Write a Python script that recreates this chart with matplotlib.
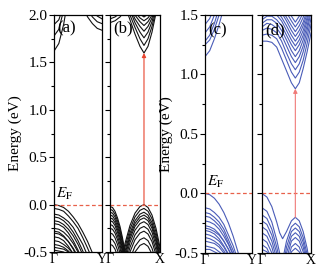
import matplotlib.pyplot as plt
from matplotlib.ticker import MultipleLocator

plt.rcParams['font.family'] = 'serif'
plt.rcParams['font.serif'] = ['Liberation Serif', 'DejaVu Serif']
plt.rcParams['mathtext.fontset'] = 'stix'

# k-path grids (fraction of the path)
k_gy = [0, 0.1, 0.2, 0.3, 0.4, 0.5, 0.6, 0.7, 0.8, 0.9, 1.0]
k_gx_left = [0, 0.05, 0.1, 0.15, 0.2, 0.25, 0.3, 0.35]
k_gx_hump = [0.2, 0.3, 0.4, 0.5, 0.6, 0.68, 0.76, 0.84, 0.92, 1.0]
k_gx_cb = [0.3, 0.4, 0.5, 0.6, 0.68, 0.76, 0.84, 0.92, 1.0]
k_gx_top = [0, 0.1, 0.2, 0.3, 0.4]
k_gx_d = [0, 0.1, 0.2, 0.3, 0.36, 0.42, 0.5, 0.6, 0.68, 0.76, 0.84, 0.92, 1.0]
k_gx_dcb = [0, 0.1, 0.2, 0.3, 0.4, 0.5, 0.6, 0.68, 0.76, 0.84, 0.92, 1.0]

# (a) Gamma-Y, black
a_valence = [
    [0.00, -0.01, -0.03, -0.07, -0.13, -0.20, -0.29, -0.39, -0.51, -0.65, -0.80],
    [-0.04, -0.05, -0.07, -0.12, -0.18, -0.25, -0.35, -0.46, -0.58, -0.73, -0.89],
    [-0.10, -0.11, -0.14, -0.18, -0.24, -0.33, -0.42, -0.54, -0.68, -0.83, -1.00],
    [-0.13, -0.14, -0.17, -0.22, -0.29, -0.38, -0.49, -0.62, -0.77, -0.94, -1.13],
    [-0.17, -0.18, -0.21, -0.26, -0.33, -0.42, -0.53, -0.66, -0.81, -0.98, -1.17],
    [-0.20, -0.21, -0.24, -0.30, -0.38, -0.48, -0.60, -0.74, -0.90, -1.09, -1.30],
    [-0.25, -0.26, -0.29, -0.34, -0.41, -0.50, -0.61, -0.74, -0.89, -1.06, -1.25],
    [-0.28, -0.29, -0.33, -0.39, -0.47, -0.58, -0.71, -0.87, -1.05, -1.25, -1.48],
    [-0.30, -0.31, -0.34, -0.39, -0.46, -0.55, -0.66, -0.79, -0.94, -1.11, -1.30],
    [-0.34, -0.35, -0.38, -0.44, -0.52, -0.62, -0.74, -0.88, -1.04, -1.23, -1.44],
    [-0.38, -0.39, -0.42, -0.46, -0.52, -0.61, -0.70, -0.82, -0.96, -1.11, -1.28],
    [-0.42, -0.43, -0.45, -0.49, -0.55, -0.62, -0.71, -0.81, -0.93, -1.07, -1.22],
    [-0.45, -0.46, -0.47, -0.50, -0.55, -0.60, -0.67, -0.74, -0.83, -0.94, -1.05],
    [-0.48, -0.49, -0.50, -0.53, -0.56, -0.61, -0.66, -0.73, -0.80, -0.89, -0.98],
]
a_conduction = [
    [1.62, 1.70, 1.90, 2.20, 2.50, 2.60, 2.60, 2.60, 2.60, 2.60, 2.60],
    [1.78, 1.85, 2.05, 2.30, 2.50, 2.60, 2.60, 2.60, 2.60, 2.60, 2.60],
    [1.90, 1.95, 2.10, 2.30, 2.50, 2.60, 2.60, 2.60, 2.60, 2.60, 2.60],
    [2.60, 2.60, 2.60, 2.50, 2.30, 2.20, 2.08, 1.98, 1.91, 1.86, 1.84],
    [2.60, 2.60, 2.60, 2.50, 2.40, 2.30, 2.18, 2.06, 1.98, 1.93, 1.91],
    [2.60, 2.60, 2.60, 2.60, 2.50, 2.40, 2.28, 2.15, 2.05, 1.99, 1.96],
]

# (b) Gamma-X, black
b_valence_left = [
    [-0.02, -0.03, -0.07, -0.14, -0.23, -0.35, -0.50, -0.67],
    [-0.05, -0.06, -0.10, -0.17, -0.26, -0.38, -0.53, -0.70],
    [-0.08, -0.09, -0.13, -0.20, -0.29, -0.41, -0.56, -0.73],
    [-0.11, -0.12, -0.16, -0.23, -0.32, -0.44, -0.59, -0.76],
    [-0.14, -0.15, -0.19, -0.26, -0.35, -0.47, -0.62, -0.79],
    [-0.17, -0.18, -0.22, -0.29, -0.38, -0.50, -0.65, -0.82],
    [-0.21, -0.22, -0.26, -0.33, -0.42, -0.54, -0.69, -0.86],
    [-0.25, -0.26, -0.30, -0.37, -0.46, -0.58, -0.73, -0.90],
    [-0.30, -0.31, -0.35, -0.42, -0.51, -0.63, -0.78, -0.95],
    [-0.36, -0.37, -0.41, -0.48, -0.57, -0.69, -0.84, -1.01],
    [-0.42, -0.43, -0.47, -0.54, -0.63, -0.75, -0.90, -1.07],
]
b_valence_hump = [
    [-0.65, -0.41, -0.22, -0.09, -0.02, 0.00, -0.03, -0.11, -0.25, -0.45],
    [-0.69, -0.45, -0.26, -0.13, -0.06, -0.04, -0.07, -0.15, -0.29, -0.49],
    [-0.73, -0.49, -0.30, -0.17, -0.10, -0.08, -0.11, -0.19, -0.33, -0.53],
    [-0.76, -0.52, -0.33, -0.20, -0.13, -0.11, -0.14, -0.22, -0.36, -0.56],
    [-0.79, -0.55, -0.36, -0.23, -0.16, -0.14, -0.17, -0.25, -0.39, -0.59],
    [-0.83, -0.59, -0.40, -0.27, -0.20, -0.18, -0.21, -0.29, -0.43, -0.63],
    [-0.88, -0.64, -0.45, -0.32, -0.25, -0.23, -0.26, -0.34, -0.48, -0.68],
    [-0.93, -0.69, -0.50, -0.37, -0.30, -0.28, -0.31, -0.39, -0.53, -0.73],
    [-1.00, -0.76, -0.57, -0.44, -0.37, -0.35, -0.38, -0.46, -0.60, -0.80],
    [-1.06, -0.82, -0.63, -0.50, -0.43, -0.41, -0.44, -0.52, -0.66, -0.86],
]
b_conduction = [
    [2.10, 1.95, 1.80, 1.67, 1.60, 1.67, 1.82, 2.02, 2.20],
    [2.15, 2.00, 1.87, 1.75, 1.68, 1.75, 1.88, 2.05, 2.20],
    [2.20, 2.05, 1.92, 1.82, 1.76, 1.82, 1.93, 2.08, 2.20],
    [2.20, 2.08, 1.96, 1.88, 1.83, 1.88, 1.97, 2.10, 2.20],
    [2.20, 2.10, 2.00, 1.93, 1.89, 1.93, 2.00, 2.10, 2.20],
    [2.20, 2.12, 2.03, 1.97, 1.94, 1.97, 2.03, 2.12, 2.20],
    [2.20, 2.15, 2.06, 2.01, 1.98, 2.01, 2.06, 2.15, 2.20],
]
b_conduction_top = [
    [1.92, 1.94, 1.98, 2.05, 2.20],
    [1.96, 1.98, 2.02, 2.10, 2.20],
]

# (c) Gamma-Y, blue
c_valence = [
    [0.00, -0.01, -0.04, -0.09, -0.16, -0.25, -0.36, -0.49, -0.64, -0.81, -1.00],
    [-0.12, -0.13, -0.16, -0.20, -0.26, -0.35, -0.44, -0.56, -0.70, -0.85, -1.02],
    [-0.16, -0.17, -0.20, -0.24, -0.30, -0.39, -0.48, -0.60, -0.74, -0.89, -1.06],
    [-0.19, -0.20, -0.23, -0.27, -0.33, -0.42, -0.51, -0.63, -0.77, -0.92, -1.09],
    [-0.23, -0.24, -0.26, -0.30, -0.36, -0.43, -0.52, -0.62, -0.74, -0.88, -1.03],
    [-0.27, -0.28, -0.30, -0.34, -0.40, -0.47, -0.56, -0.66, -0.78, -0.92, -1.07],
    [-0.29, -0.30, -0.32, -0.35, -0.40, -0.47, -0.54, -0.63, -0.74, -0.86, -0.99],
    [-0.31, -0.32, -0.34, -0.38, -0.44, -0.51, -0.60, -0.70, -0.82, -0.96, -1.11],
    [-0.34, -0.35, -0.37, -0.40, -0.45, -0.52, -0.59, -0.68, -0.79, -0.91, -1.04],
    [-0.37, -0.38, -0.40, -0.43, -0.48, -0.55, -0.62, -0.71, -0.82, -0.94, -1.07],
    [-0.40, -0.41, -0.42, -0.45, -0.50, -0.55, -0.62, -0.69, -0.78, -0.89, -1.00],
    [-0.44, -0.45, -0.46, -0.49, -0.52, -0.57, -0.62, -0.69, -0.76, -0.85, -0.94],
    [-0.47, -0.47, -0.49, -0.51, -0.53, -0.57, -0.61, -0.67, -0.73, -0.79, -0.87],
]
c_conduction = [
    [1.15, 1.20, 1.30, 1.42, 1.56, 1.70, 1.80, 1.90, 2.00, 2.00, 2.00],
    [1.25, 1.29, 1.38, 1.50, 1.62, 1.74, 1.85, 1.95, 2.00, 2.00, 2.00],
    [1.28, 1.33, 1.43, 1.56, 1.68, 1.80, 1.90, 2.00, 2.00, 2.00, 2.00],
    [1.35, 1.40, 1.50, 1.62, 1.74, 1.85, 1.95, 2.00, 2.00, 2.00, 2.00],
    [1.42, 1.47, 1.57, 1.70, 1.80, 1.90, 2.00, 2.00, 2.00, 2.00, 2.00],
]

# (d) Gamma-X, blue
d_valence = [
    [0.00, -0.03, -0.11, -0.24, -0.33, -0.38, -0.32, -0.23, -0.20, -0.23, -0.32, -0.46, -0.65],
    [-0.12, -0.15, -0.24, -0.39, -0.50, -0.56, -0.40, -0.28, -0.25, -0.28, -0.37, -0.51, -0.71],
    [-0.18, -0.21, -0.30, -0.45, -0.56, -0.64, -0.45, -0.32, -0.29, -0.32, -0.41, -0.55, -0.75],
    [-0.23, -0.26, -0.35, -0.50, -0.61, -0.70, -0.50, -0.36, -0.33, -0.36, -0.45, -0.59, -0.79],
    [-0.28, -0.31, -0.40, -0.55, -0.66, -0.75, -0.55, -0.40, -0.37, -0.40, -0.49, -0.63, -0.83],
    [-0.33, -0.36, -0.45, -0.60, -0.71, -0.80, -0.60, -0.45, -0.42, -0.45, -0.54, -0.68, -0.88],
    [-0.38, -0.41, -0.50, -0.65, -0.76, -0.85, -0.64, -0.49, -0.46, -0.49, -0.58, -0.72, -0.92],
    [-0.43, -0.46, -0.55, -0.70, -0.81, -0.90, -0.80, -0.60, -0.55, -0.60, -0.70, -0.80, -0.95],
    [-0.47, -0.49, -0.56, -0.70, -0.80, -0.90, -0.90, -0.80, -0.70, -0.75, -0.80, -0.90, -1.00],
]
d_conduction = [
    [1.28, 1.28, 1.27, 1.23, 1.13, 1.03, 0.93, 0.88, 0.93, 1.05, 1.19, 1.35],
    [1.33, 1.34, 1.33, 1.30, 1.22, 1.12, 1.02, 0.97, 1.02, 1.12, 1.26, 1.42],
    [1.37, 1.39, 1.38, 1.35, 1.28, 1.18, 1.09, 1.04, 1.09, 1.19, 1.32, 1.47],
    [1.40, 1.43, 1.42, 1.39, 1.33, 1.24, 1.15, 1.10, 1.15, 1.24, 1.37, 1.52],
    [1.43, 1.46, 1.46, 1.43, 1.37, 1.29, 1.20, 1.15, 1.20, 1.29, 1.41, 1.55],
    [1.46, 1.49, 1.49, 1.46, 1.41, 1.33, 1.25, 1.20, 1.25, 1.33, 1.45, 1.58],
    [1.48, 1.52, 1.53, 1.50, 1.45, 1.37, 1.29, 1.24, 1.29, 1.37, 1.48, 1.60],
    [1.50, 1.55, 1.56, 1.53, 1.48, 1.41, 1.33, 1.28, 1.33, 1.41, 1.51, 1.60],
    [1.55, 1.58, 1.58, 1.56, 1.52, 1.45, 1.37, 1.32, 1.37, 1.44, 1.54, 1.60],
    [1.60, 1.60, 1.60, 1.60, 1.55, 1.48, 1.41, 1.36, 1.41, 1.48, 1.57, 1.60],
    [1.60, 1.60, 1.60, 1.60, 1.58, 1.52, 1.45, 1.40, 1.45, 1.52, 1.60, 1.60],
    [1.60, 1.60, 1.60, 1.60, 1.60, 1.56, 1.49, 1.44, 1.49, 1.56, 1.60, 1.60],
]

# gap transitions (k, from, to)
b_arrow = [0.68, 0.0, 1.6]
d_arrow = [0.68, -0.2, 0.88]

black = '#111111'
blue = '#4a5cb8'
red = '#e8452f'

fig = plt.figure(figsize=(3.32, 2.72), dpi=100)
ax_a = fig.add_axes([0.1627, 0.0735, 0.1446, 0.871])
ax_b = fig.add_axes([0.3313, 0.0735, 0.1506, 0.871])
ax_c = fig.add_axes([0.6175, 0.0699, 0.1416, 0.875])
ax_d = fig.add_axes([0.7892, 0.0699, 0.1476, 0.875])


def setup(ax, ylim, end_label, tag, show_labels):
    ax.set_xlim(0, 1)
    ax.set_ylim(*ylim)
    ax.set_xticks([0, 1])
    ax.set_xticklabels(['Γ', end_label], fontsize=10)
    ax.tick_params(axis='x', length=0, pad=1)
    ax.yaxis.set_major_locator(MultipleLocator(0.5))
    ax.yaxis.set_minor_locator(MultipleLocator(0.25))
    ax.tick_params(axis='y', which='major', direction='out', length=3.5, width=0.8, labelsize=11, pad=1)
    ax.tick_params(axis='y', which='minor', direction='out', length=2, width=0.8)
    if not show_labels:
        ax.set_yticklabels([])
    else:
        ax.yaxis.set_major_formatter(plt.FormatStrFormatter('%.1f'))
    for s in ax.spines.values():
        s.set_linewidth(0.9)
    ax.axhline(0, color='#e8604a', lw=0.9, ls=(0, (3, 2)))
    ax.text(0.07, ylim[1] - 0.06, tag, fontsize=12, va='top', ha='left')


for band in a_valence + a_conduction:
    ax_a.plot(k_gy, band, color=black, lw=0.8)
for band in b_valence_left:
    ax_b.plot(k_gx_left, band, color=black, lw=0.8)
for band in b_valence_hump:
    ax_b.plot(k_gx_hump, band, color=black, lw=0.8)
for band in b_conduction:
    ax_b.plot(k_gx_cb, band, color=black, lw=0.8)
for band in b_conduction_top:
    ax_b.plot(k_gx_top, band, color=black, lw=0.8)
for band in c_valence + c_conduction:
    ax_c.plot(k_gy, band, color=blue, lw=0.8)
for band in d_valence:
    ax_d.plot(k_gx_d, band, color=blue, lw=0.8)
for band in d_conduction:
    ax_d.plot(k_gx_dcb, band, color=blue, lw=0.8)

setup(ax_a, (-0.5, 2.0), 'Y', '(a)', True)
setup(ax_b, (-0.5, 2.0), 'X', '(b)', False)
setup(ax_c, (-0.5, 1.5), 'Y', '(c)', True)
setup(ax_d, (-0.5, 1.5), 'X', '(d)', False)

ax_a.set_ylabel('Energy (eV)', fontsize=11, labelpad=1)
ax_c.set_ylabel('Energy (eV)', fontsize=11, labelpad=1)
ax_a.text(0.05, 0.03, r'$E_{\mathrm{F}}$', fontsize=11, va='bottom')
ax_c.text(0.05, 0.03, r'$E_{\mathrm{F}}$', fontsize=11, va='bottom')

ax_b.annotate('', xy=(b_arrow[0], b_arrow[2]), xytext=(b_arrow[0], b_arrow[1]),
              arrowprops=dict(arrowstyle='-|>', color=red, lw=0.8, mutation_scale=6, shrinkA=0, shrinkB=0))
ax_d.annotate('', xy=(d_arrow[0], d_arrow[2]), xytext=(d_arrow[0], d_arrow[1]),
              arrowprops=dict(arrowstyle='-|>', color='#f07a78', lw=0.8, mutation_scale=6, shrinkA=0, shrinkB=0))

fig.savefig('out.png', dpi=100)
